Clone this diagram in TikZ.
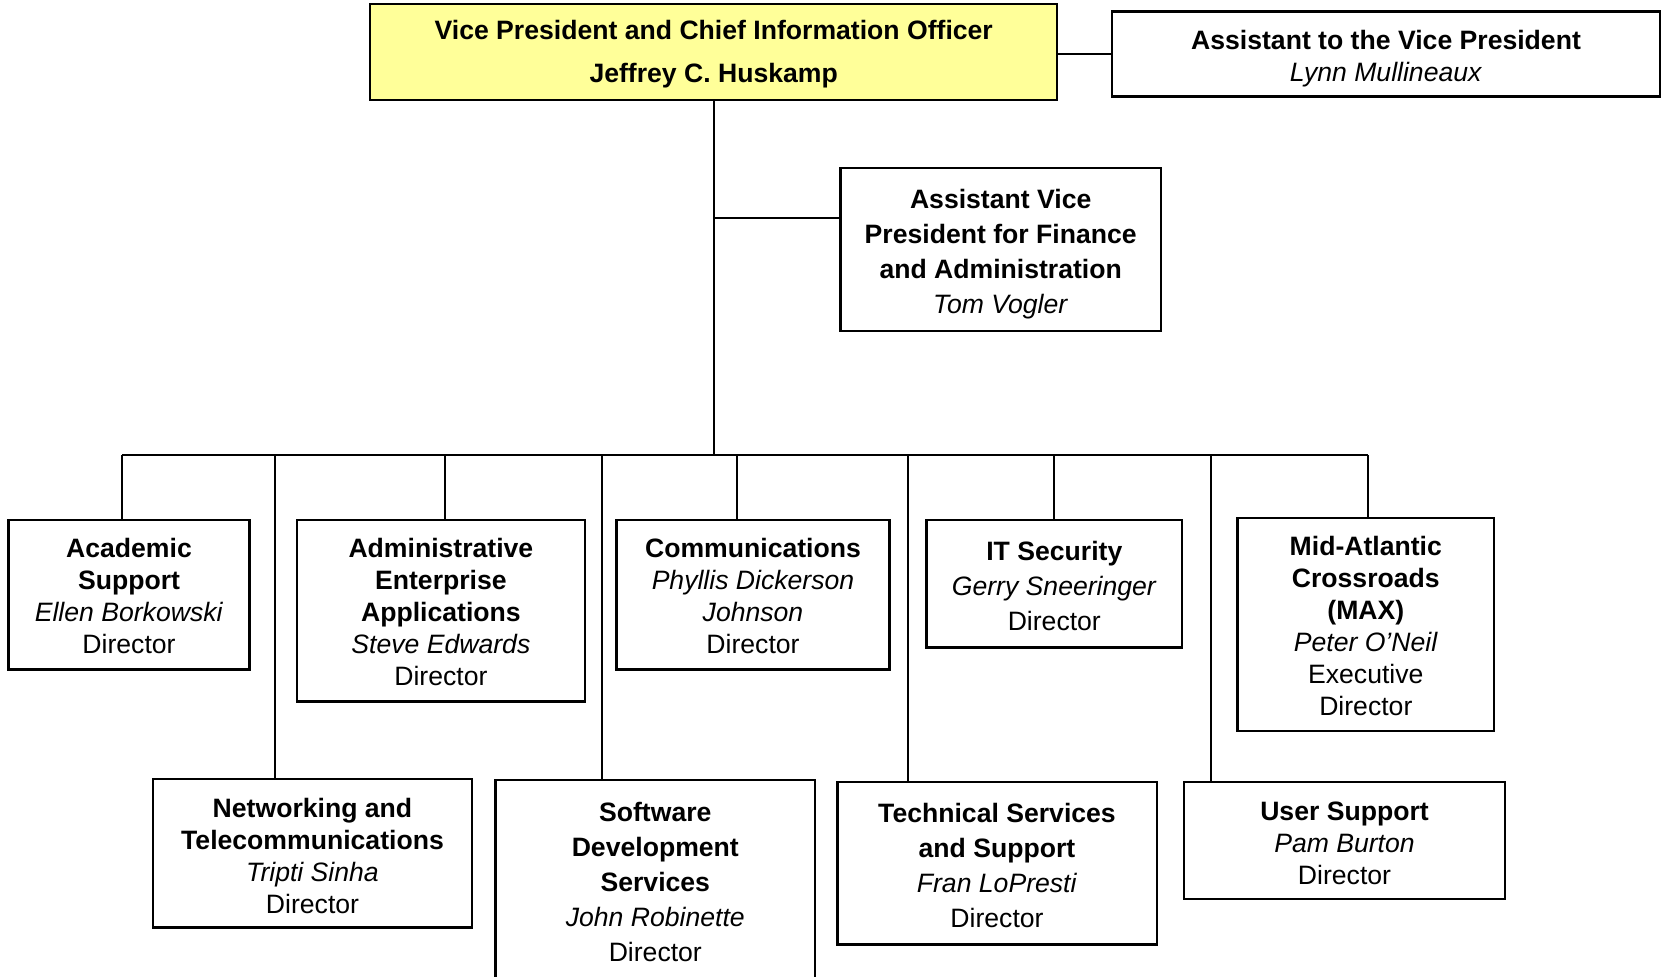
\documentclass[tikz,border=0pt]{standalone}
\usepackage{fontspec}
\setmainfont{Liberation Sans}
\definecolor{vpyellow}{HTML}{FFFF99}
\newcommand{\lift}[1]{\rule{0pt}{#1}}

\begin{document}
\begin{tikzpicture}[x=0.5pt,y=-0.5pt,
  unit/.style={draw,line width=1.2pt,align=center,inner sep=0pt,font=\fontsize{13.3}{16}\selectfont},
  wide/.style={unit,font=\fontsize{13.3}{17.5}\selectfont},
  link/.style={line width=1pt}]
\useasboundingbox (0,0) rectangle (1664,976);

%*** Head of the office ***
\node[unit,fill=vpyellow,minimum width=343.5pt,minimum height=48pt,
  font=\fontsize{13.3}{21.5}\selectfont\bfseries] (vp) at (713.7,52)
  {\lift{12pt}Vice President and Chief Information Officer\\Jeffrey C. Huskamp};
\node[unit,minimum width=273.8pt,minimum height=42.5pt] (asst) at (1386,54)
  {\lift{14.5pt}\textbf{Assistant to the Vice President}\\\textit{Lynn Mullineaux}};
\node[wide,minimum width=160.3pt,minimum height=81.7pt] (avp) at (1000.7,249.4)
  {\lift{14.5pt}\textbf{Assistant Vice}\\\textbf{President for Finance}\\\textbf{and Administration}\\\textit{Tom Vogler}};

%*** First row ***
\node[unit,minimum width=120.5pt,minimum height=74.8pt] (acad) at (129,594.8)
  {\lift{11pt}\textbf{Academic}\\\textbf{Support}\\\textit{Ellen Borkowski}\\Director};
\node[unit,minimum width=143.8pt,minimum height=90.7pt] (admin) at (440.9,610.7)
  {\lift{11pt}\textbf{Administrative}\\\textbf{Enterprise}\\\textbf{Applications}\\\textit{Steve Edwards}\\Director};
\node[unit,minimum width=136.4pt,minimum height=74.8pt] (comm) at (753,594.8)
  {\lift{11pt}\textbf{Communications}\\\textit{Phyllis Dickerson}\\\textit{Johnson}\\Director};
\node[wide,minimum width=127.9pt,minimum height=63.7pt] (itsec) at (1054.3,583.7)
  {\lift{11.5pt}\textbf{IT Security}\\\textit{Gerry Sneeringer}\\Director};
\node[unit,minimum width=128.4pt,minimum height=106.7pt] (max) at (1365.8,624.5)
  {\lift{11pt}\textbf{Mid-Atlantic}\\\textbf{Crossroads}\\\textbf{(MAX)}\\\textit{Peter O’Neil}\\Executive\\Director};

%*** Second row ***
\node[unit,minimum width=159.7pt,minimum height=74.3pt] (net) at (312.5,853.2)
  {\lift{12pt}\textbf{Networking and}\\\textbf{Telecommunications}\\\textit{Tripti Sinha}\\Director};
\node[wide,minimum width=159.7pt,minimum height=100.3pt] (soft) at (655.3,880.3)
  {\lift{11pt}\textbf{Software}\\\textbf{Development}\\\textbf{Services}\\\textit{John Robinette}\\Director};
\node[wide,minimum width=159.7pt,minimum height=81.2pt] (tech) at (997,863.3)
  {\lift{12pt}\textbf{Technical Services}\\\textbf{and Support}\\\textit{Fran LoPresti}\\Director};
\node[unit,minimum width=160.3pt,minimum height=58.4pt] (user) at (1344.5,840.5)
  {\lift{12pt}\textbf{User Support}\\\textit{Pam Burton}\\Director};

%Staff lines
\coordinate (bus) at (0,455);
\draw[link] (vp.east |- asst.west) -- (asst.west);
\draw[link] (vp.south) -- (vp.south |- bus);
\draw[link] (vp.south |- avp.169) -- (avp.169);

%Bus
\draw[link] (122,455) -- (1368,455);

%Drops
\foreach \x/\n in {122/acad,445/admin,737/comm,1054/itsec,1368/max,275/net,602/soft,908/tech,1211/user}
  \draw[link] (\x,455) -- (\x,455 |- \n.north);
\end{tikzpicture}
\end{document}
